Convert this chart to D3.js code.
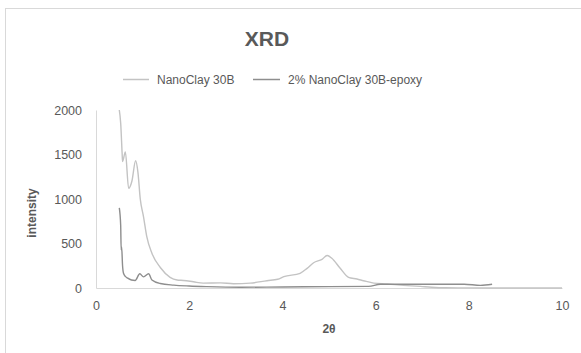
<!DOCTYPE html>
<html lang="en">
<head>
<meta charset="UTF-8">
<title>XRD</title>
<script src="https://d3js.org/d3.v7.min.js"></script>
<style>
  body { margin: 0; background: #fff; }
  text { font-family: "Liberation Sans", Arial, sans-serif; fill: #595959; }
</style>
</head>
<body>
<div id="chart"></div>
<script>
// values
var seriesNames = ["NanoClay 30B", "2% NanoClay 30B-epoxy"];

var clayX = [0.50, 0.53, 0.56, 0.57, 0.63, 0.70, 0.77, 0.85, 0.90, 0.95, 1.02, 1.09, 1.20, 1.38, 1.59, 1.74, 1.88, 2.09, 2.30, 2.67, 2.95, 3.31, 3.67, 3.90, 4.03, 4.38, 4.53, 4.67, 4.85, 4.96, 5.06, 5.24, 5.42, 5.60, 5.74, 5.96, 6.24, 6.60, 6.96, 7.20, 7.50, 8.00, 9.00, 10.00];
var clayY = [2000, 1850, 1520, 1420, 1530, 1120, 1200, 1430, 1300, 1000, 800, 576, 390, 230, 120, 90, 85, 70, 55, 58, 48, 55, 82, 98, 127, 165, 221, 284, 322, 365, 334, 221, 120, 101, 82, 55, 45, 30, 18, 8, 2, 1, 0, 0];

var epoxyX = [0.50, 0.53, 0.54, 0.55, 0.57, 0.59, 0.63, 0.68, 0.76, 0.84, 0.94, 1.02, 1.13, 1.20, 1.38, 1.67, 2.00, 2.38, 3.10, 4.00, 5.00, 5.85, 6.10, 6.50, 7.00, 7.50, 7.90, 8.25, 8.50];
var epoxyY = [900, 700, 430, 460, 250, 165, 130, 110, 90, 85, 160, 125, 160, 90, 50, 32, 22, 15, 8, 12, 15, 18, 42, 42, 42, 42, 42, 30, 42];

var xTicks = [0, 2, 4, 6, 8, 10];
var yTicks = [0, 500, 1000, 1500, 2000];
var colors = ["#c3c3c3", "#8e8e8e"];

var W = 581, H = 353;
var margin = { top: 110, right: 19, bottom: 65, left: 96 };
var width = W - margin.left - margin.right,
    height = H - margin.top - margin.bottom;

var svg = d3.select("#chart").append("svg")
    .attr("width", W)
    .attr("height", H);

// chart frame
svg.append("rect")
    .attr("x", 5.5).attr("y", 8.5)
    .attr("width", 620).attr("height", 420)
    .attr("fill", "none")
    .attr("stroke", "#d9d9d9");

svg.append("text")
    .attr("x", 267).attr("y", 46)
    .attr("text-anchor", "middle")
    .style("font-size", "21px")
    .style("font-weight", "bold")
    .text("XRD");

// legend
var legendPos = [{ x1: 123, x2: 149, tx: 157 }, { x1: 253, x2: 280, tx: 288 }];
seriesNames.forEach(function (name, i) {
    var p = legendPos[i];
    svg.append("line")
        .attr("x1", p.x1).attr("x2", p.x2)
        .attr("y1", 79.5).attr("y2", 79.5)
        .attr("stroke", colors[i]).attr("stroke-width", 1.5);
    svg.append("text")
        .attr("x", p.tx).attr("y", 83.5)
        .style("font-size", "12px")
        .text(name);
});

var g = svg.append("g")
    .attr("transform", "translate(" + margin.left + "," + margin.top + ")");

var x = d3.scaleLinear().domain([0, 10]).range([0, width]);
var y = d3.scaleLinear().domain([0, 2000]).range([height, 0]);

var xAxis = g.append("g")
    .attr("transform", "translate(0," + height + ")")
    .call(d3.axisBottom(x).tickValues(xTicks).tickFormat(d3.format("d")).tickSize(0).tickPadding(13));
xAxis.select(".domain").attr("stroke", "#d9d9d9");

var yAxis = g.append("g")
    .call(d3.axisLeft(y).tickValues(yTicks).tickFormat(d3.format("d")).tickSize(0).tickPadding(14));
yAxis.select(".domain").attr("stroke", "#d9d9d9");

g.selectAll(".tick text")
    .style("font-family", "Liberation Sans, Arial, sans-serif")
    .style("font-size", "12.5px")
    .attr("fill", "#595959");

svg.append("text")
    .attr("x", margin.left + width / 2).attr("y", 333)
    .attr("text-anchor", "middle")
    .style("font-size", "12px")
    .style("font-weight", "bold")
    .text("2θ");

svg.append("text")
    .attr("transform", "translate(36,213) rotate(-90)")
    .attr("text-anchor", "middle")
    .style("font-size", "12px")
    .style("font-weight", "bold")
    .text("intensity");

var line = d3.line()
    .x(function (d) { return x(d[0]); })
    .y(function (d) { return y(d[1]); })
    .curve(d3.curveMonotoneX);

var data = [
    d3.zip(clayX, clayY),
    d3.zip(epoxyX, epoxyY)
];

g.selectAll("path.series")
    .data(data)
    .enter()
    .append("path")
    .attr("class", "series")
    .attr("d", line)
    .attr("fill", "none")
    .attr("stroke", function (d, i) { return colors[i]; })
    .attr("stroke-width", 1.4);
</script>
</body>
</html>
